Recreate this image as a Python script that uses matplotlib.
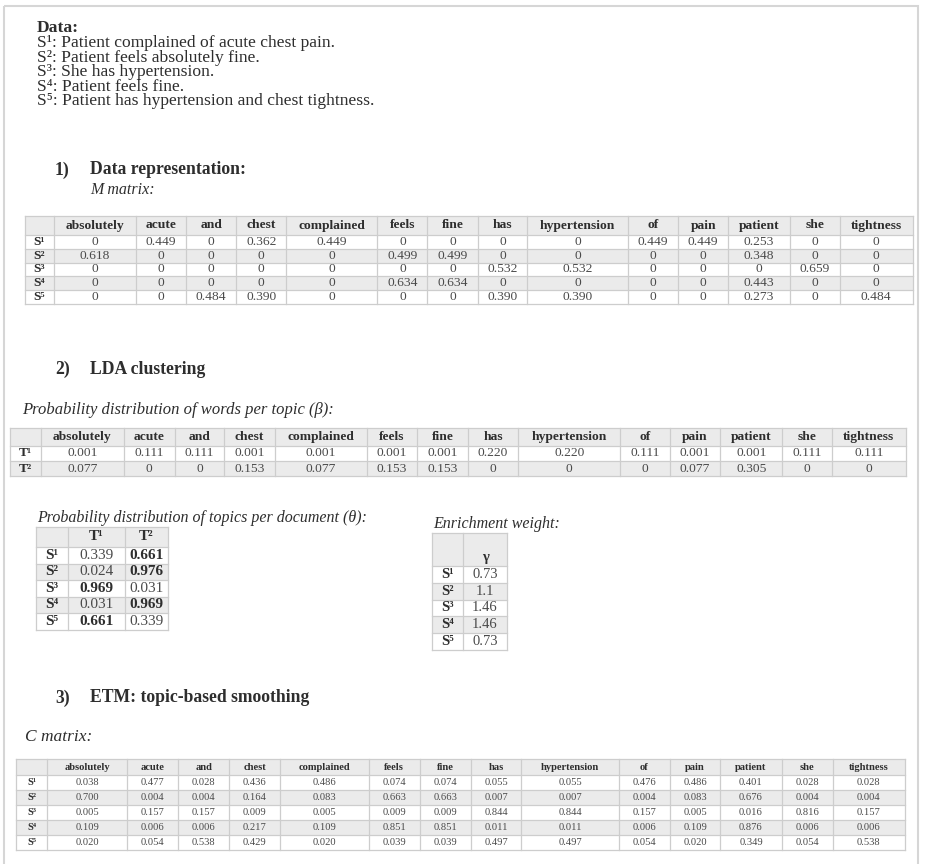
import matplotlib
matplotlib.use('Agg')
import matplotlib.pyplot as plt
from matplotlib.patches import Rectangle

plt.rcParams['font.family'] = ['Liberation Serif', 'DejaVu Serif']

# ---- data ----
sup = ['\u00b9', '\u00b2', '\u00b3', '\u2074', '\u2075']
doc_labels = ['S' + s for s in sup]
topic_labels = ['T\u00b9', 'T\u00b2']
sentences = ['Patient complained of acute chest pain.',
             'Patient feels absolutely fine.',
             'She has hypertension.',
             'Patient feels fine.',
             'Patient has hypertension and chest tightness.']
words = ['absolutely', 'acute', 'and', 'chest', 'complained', 'feels', 'fine',
         'has', 'hypertension', 'of', 'pain', 'patient', 'she', 'tightness']

m_matrix = [
    [0, 0.449, 0, 0.362, 0.449, 0, 0, 0, 0, 0.449, 0.449, 0.253, 0, 0],
    [0.618, 0, 0, 0, 0, 0.499, 0.499, 0, 0, 0, 0, 0.348, 0, 0],
    [0, 0, 0, 0, 0, 0, 0, 0.532, 0.532, 0, 0, 0, 0.659, 0],
    [0, 0, 0, 0, 0, 0.634, 0.634, 0, 0, 0, 0, 0.443, 0, 0],
    [0, 0, 0.484, 0.390, 0, 0, 0, 0.390, 0.390, 0, 0, 0.273, 0, 0.484],
]
beta = [
    [0.001, 0.111, 0.111, 0.001, 0.001, 0.001, 0.001, 0.220, 0.220, 0.111, 0.001, 0.001, 0.111, 0.111],
    [0.077, 0, 0, 0.153, 0.077, 0.153, 0.153, 0, 0, 0, 0.077, 0.305, 0, 0],
]
theta = [[0.339, 0.661], [0.024, 0.976], [0.969, 0.031], [0.031, 0.969], [0.661, 0.339]]
gamma = [0.73, 1.1, 1.46, 1.46, 0.73]
c_matrix = [
    [0.038, 0.477, 0.028, 0.436, 0.486, 0.074, 0.074, 0.055, 0.055, 0.476, 0.486, 0.401, 0.028, 0.028],
    [0.700, 0.004, 0.004, 0.164, 0.083, 0.663, 0.663, 0.007, 0.007, 0.004, 0.083, 0.676, 0.004, 0.004],
    [0.005, 0.157, 0.157, 0.009, 0.005, 0.009, 0.009, 0.844, 0.844, 0.157, 0.005, 0.016, 0.816, 0.157],
    [0.109, 0.006, 0.006, 0.217, 0.109, 0.851, 0.851, 0.011, 0.011, 0.006, 0.109, 0.876, 0.006, 0.006],
    [0.020, 0.054, 0.538, 0.429, 0.020, 0.039, 0.039, 0.497, 0.497, 0.054, 0.020, 0.349, 0.054, 0.538],
]


def fmt0(v):
    return '0' if v == 0 else '%.3f' % v


fig = plt.figure(figsize=(9.26, 8.64), dpi=100)
ax = fig.add_axes([0, 0, 1, 1])
ax.set_xlim(0, 926)
ax.set_ylim(864, 0)
ax.axis('off')
renderer = fig.canvas.get_renderer()

TXT = '#2e2e2e'
VAL = '#4a4a4a'
GRID = '#cdcdcd'
SHADE = '#ebebeb'


def measure(s, size, weight='normal'):
    t = ax.text(0, 0, s, size=size, weight=weight)
    w = t.get_window_extent(renderer).width
    t.remove()
    return w


def draw_table(left, right, top, head_h, row_h, cols, rows, cells, size,
               bold=None, pad=14, head_dy=0, widths=None):
    if widths is None:
        pref = [max(measure(r, size, 'bold') for r in rows) + pad]
        for j, c in enumerate(cols):
            w = max([measure(c, size, 'bold')] + [measure(row[j], size) for row in cells])
            pref.append(w + pad)
    else:
        pref = list(widths)
    scale = (right - left) / sum(pref)
    xs = [left]
    for p in pref:
        xs.append(xs[-1] + p * scale)
    ys = [top, top + head_h]
    for _ in rows:
        ys.append(ys[-1] + row_h)
    # backgrounds
    ax.add_patch(Rectangle((left, top), right - left, head_h, fc=SHADE, ec='none'))
    for i in range(len(rows)):
        if i % 2 == 1:
            ax.add_patch(Rectangle((left, ys[i + 1]), right - left, row_h, fc=SHADE, ec='none'))
    # grid
    for x in xs:
        ax.plot([x, x], [ys[0], ys[-1]], color=GRID, lw=0.9)
    for y in ys:
        ax.plot([left, right], [y, y], color=GRID, lw=0.9)
    # header
    for j, c in enumerate(cols):
        ax.text((xs[j + 1] + xs[j + 2]) / 2, top + head_h / 2 + head_dy, c, size=size,
                weight='bold', color=TXT, ha='center', va='center')
    for i, r in enumerate(rows):
        yc = (ys[i + 1] + ys[i + 2]) / 2
        ax.text((xs[0] + xs[1]) / 2, yc, r, size=size, weight='bold', color=TXT,
                ha='center', va='center')
        for j, v in enumerate(cells[i]):
            b = bold is not None and bold[i][j]
            ax.text((xs[j + 1] + xs[j + 2]) / 2, yc, v, size=size,
                    weight='bold' if b else 'normal', color=TXT if b else VAL,
                    ha='center', va='center')


# page frame
ax.add_patch(Rectangle((4, 6), 914, 860, fc='none', ec='#d6d6d6', lw=1.5))

# data sentences
ax.text(37, 28, 'Data:', size=12.6, weight='bold', color=TXT, va='center')
for i, s in enumerate(sentences):
    ax.text(37, 43 + i * 14.6, doc_labels[i] + ': ' + s, size=12.6, color=TXT, va='center')

# 1) data representation
ax.text(55, 170, '1)', size=12.7, weight='bold', color=TXT, va='center')
ax.text(90, 170, 'Data representation:', size=12.7, weight='bold', color=TXT, va='center')
ax.text(90, 190, 'M matrix:', size=11.5, style='italic', color=TXT, va='center')
draw_table(25, 913, 216, 19, 13.8, words, doc_labels,
           [[fmt0(v) for v in row] for row in m_matrix], 9.7)

# 2) LDA clustering
ax.text(55, 369, '2)', size=12.7, weight='bold', color=TXT, va='center')
ax.text(90, 369, 'LDA clustering', size=12.7, weight='bold', color=TXT, va='center')
ax.text(22, 410, 'Probability distribution of words per topic (\u03b2):', size=12,
        style='italic', color=TXT, va='center')
draw_table(10, 906, 428, 18, 15, words, topic_labels,
           [[fmt0(v) for v in row] for row in beta], 9.7)

ax.text(37, 518, 'Probability distribution of topics per document (\u03b8):', size=11.5,
        style='italic', color=TXT, va='center')
theta_bold = [[v == max(row) for v in row] for row in theta]
draw_table(36, 168, 527, 20, 16.5, topic_labels, doc_labels,
           [['%.3f' % v for v in row] for row in theta], 11, bold=theta_bold,
           widths=[32, 57, 43])

ax.text(433, 524, 'Enrichment weight:', size=11.5, style='italic', color=TXT, va='center')
draw_table(432, 507, 533, 33, 16.8, ['\u03b3'], doc_labels,
           [['%g' % v] for v in gamma], 10.5, head_dy=8, widths=[31, 44])

# 3) ETM
ax.text(55, 698, '3)', size=12.7, weight='bold', color=TXT, va='center')
ax.text(90, 698, 'ETM: topic-based smoothing', size=12.7, weight='bold', color=TXT, va='center')
ax.text(25, 737, 'C matrix:', size=12.5, style='italic', color=TXT, va='center')
draw_table(16, 905, 759, 16, 15, words, doc_labels,
           [['%.3f' % v for v in row] for row in c_matrix], 7.6)

fig.savefig('out.png', dpi=100, facecolor='white')
